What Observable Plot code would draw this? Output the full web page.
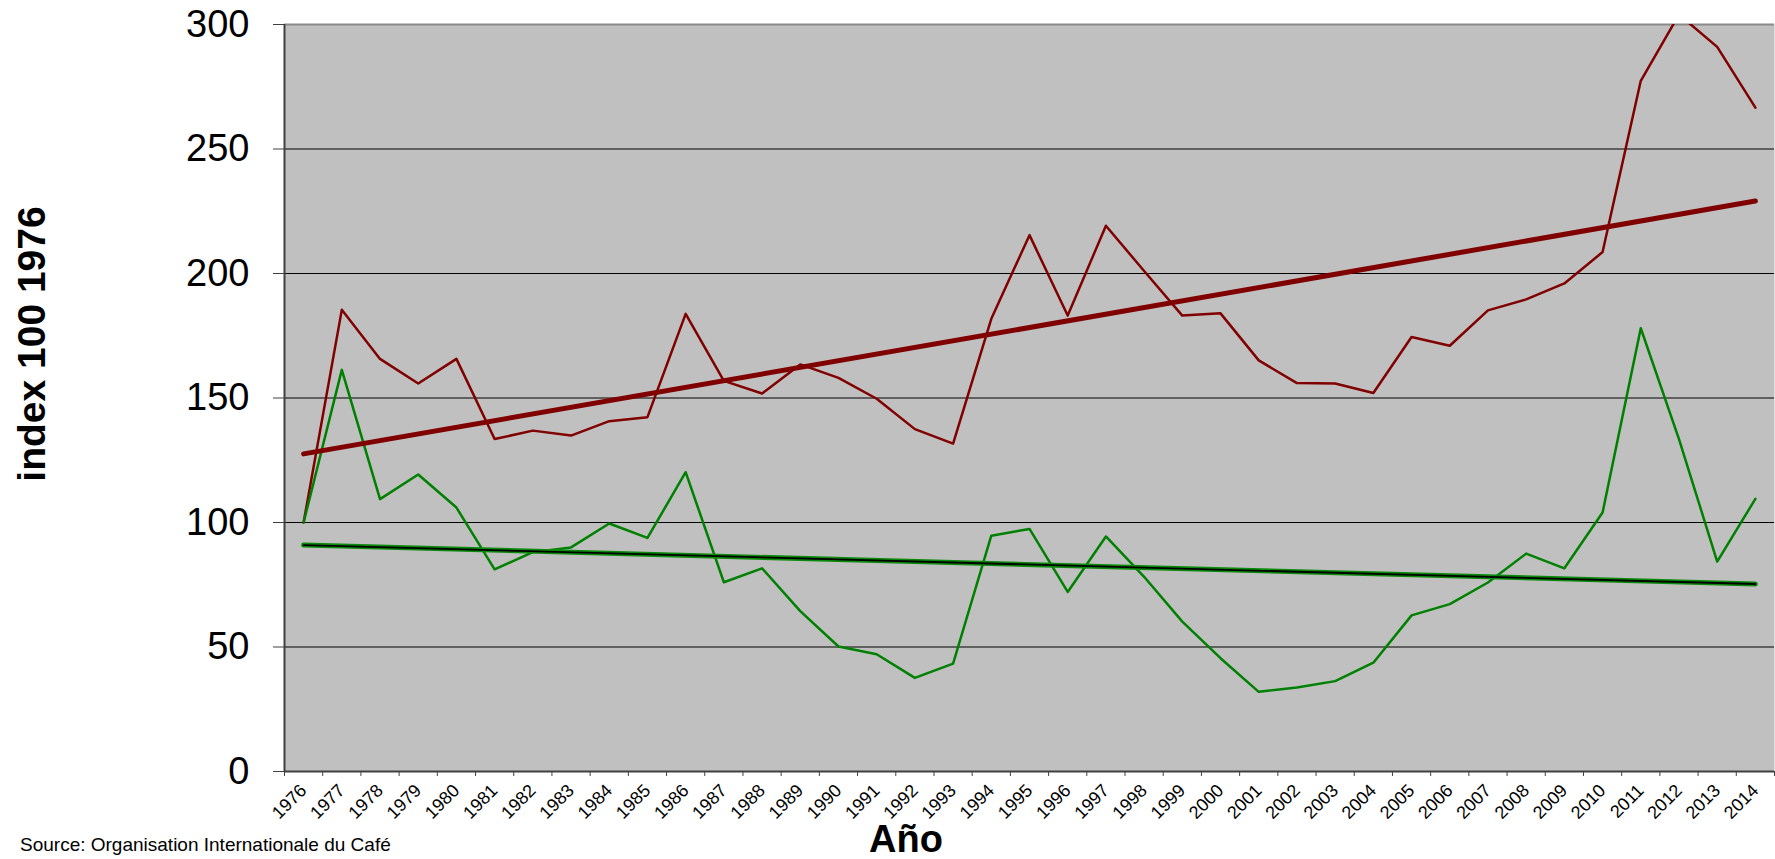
<!DOCTYPE html>
<html>
<head>
<meta charset="utf-8">
<script src="https://cdn.jsdelivr.net/npm/d3@7"></script>
<script src="https://cdn.jsdelivr.net/npm/@observablehq/plot@0.6"></script>
<style>
  body { margin: 0; background: #fff; font-family: "Liberation Sans", Arial, sans-serif; }
  #wrap { position: relative; width: 1775px; height: 859px; overflow: hidden; background: #fff; }
  #chart { position: absolute; left: 0; top: 0; }
  #ytitle { position: absolute; left: 31px; top: 344px; transform: translate(-50%, -50%) rotate(-90deg);
            font-weight: bold; font-size: 39px; line-height: 1; white-space: nowrap; color: #000; }
  #xtitle { position: absolute; left: 906px; top: 820px; transform: translateX(-50%);
            font-weight: bold; font-size: 38px; line-height: 1; white-space: nowrap; color: #000; }
  #source { position: absolute; left: 20px; top: 835px; font-size: 19px; line-height: 1; white-space: nowrap; color: #000; }
</style>
</head>
<body>
<div id="wrap">
  <div id="chart"></div>
  <div id="ytitle">index 100 1976</div>
  <div id="xtitle">Año</div>
  <div id="source">Source: Organisation Internationale du Café</div>
</div>
<script>
// ---- data ----
const years = [1976, 1977, 1978, 1979, 1980, 1981, 1982, 1983, 1984, 1985,
               1986, 1987, 1988, 1989, 1990, 1991, 1992, 1993, 1994, 1995,
               1996, 1997, 1998, 1999, 2000, 2001, 2002, 2003, 2004, 2005,
               2006, 2007, 2008, 2009, 2010, 2011, 2012, 2013, 2014];

const redIndex = [100, 185.4, 165.7, 155.8, 165.7, 133.5, 136.9, 134.9, 140.7, 142.3,
                  183.8, 156.9, 151.8, 163.5, 158.1, 149.7, 137.5, 131.7, 181.8, 215.4,
                  183.1, 219.2, 201, 183.1, 184, 165.1, 156, 155.8, 152, 174.5,
                  171, 185.2, 189.6, 196, 208.6, 277.4, 304, 291, 266.6];

const greenIndex = [100, 161.3, 109.4, 119.3, 106, 81.2, 88.1, 90, 99.6, 93.8,
                    120.2, 76, 81.6, 64.4, 50.2, 47.1, 37.6, 43.3, 94.7, 97.4,
                    72.1, 94.4, 78.2, 60.2, 45.5, 32, 33.7, 36.3, 43.7, 62.7,
                    67.2, 75.9, 87.5, 81.6, 104, 178, 133.5, 84.3, 109.5];

const yTicks = [0, 50, 100, 150, 200, 250, 300];

// ---- tables built from the arrays ----
const redRows = years.map((year, i) => ({year, value: redIndex[i]}));
const greenRows = years.map((year, i) => ({year, value: greenIndex[i]}));
const xDomain = [years[0] - 0.5, years[years.length - 1] + 0.5];
const boundaries = [...years.map(y => y - 0.5), years[years.length - 1] + 0.5];

const chart = Plot.plot({
  width: 1775,
  height: 859,
  marginLeft: 284,
  marginRight: 1,
  marginTop: 24,
  marginBottom: 88,
  style: {fontFamily: '"Liberation Sans", Arial, sans-serif', background: "transparent", color: "#000"},
  x: {type: "linear", domain: xDomain, label: null, axis: null},
  y: {domain: [0, 300], label: null, axis: null},
  marks: [
    Plot.frame({fill: "#c0c0c0"}),
    Plot.gridY(yTicks.filter(v => v > 0 && v < 300), {stroke: "#000", strokeOpacity: 1, strokeWidth: 1}),
    Plot.ruleY([yTicks[yTicks.length - 1]], {stroke: "#8a8a8a", strokeWidth: 2}),
    Plot.line(redRows, {x: "year", y: "value", stroke: "#800000", strokeWidth: 2.5, clip: true}),
    Plot.line(greenRows, {x: "year", y: "value", stroke: "#008000", strokeWidth: 2.5}),
    Plot.linearRegressionY(redRows, {x: "year", y: "value", stroke: "#800000", strokeWidth: 5, ci: 0}),
    Plot.linearRegressionY(greenRows, {x: "year", y: "value", stroke: "#0a8a0a", strokeWidth: 5, ci: 0}),
    Plot.linearRegressionY(greenRows, {x: "year", y: "value", stroke: "#000", strokeWidth: 1.8, ci: 0}),
    Plot.ruleX([xDomain[0]], {stroke: "#404040", strokeWidth: 2}),
    Plot.ruleY([yTicks[0]], {stroke: "#404040", strokeWidth: 2}),
    Plot.axisY({ticks: yTicks, tickSize: 11, tickPadding: 24, fontSize: 38, stroke: "#404040", fill: "#000", tickFormat: d => String(d)}),
    Plot.axisX({ticks: boundaries, tickSize: 5, stroke: "#404040", tickFormat: () => ""}),
    Plot.axisX({ticks: years, tickSize: 0, tickPadding: 16, tickRotate: -45, fontSize: 18, fill: "#000", tickFormat: d => String(d)})
  ]
});
document.getElementById("chart").append(chart);
</script>
</body>
</html>
